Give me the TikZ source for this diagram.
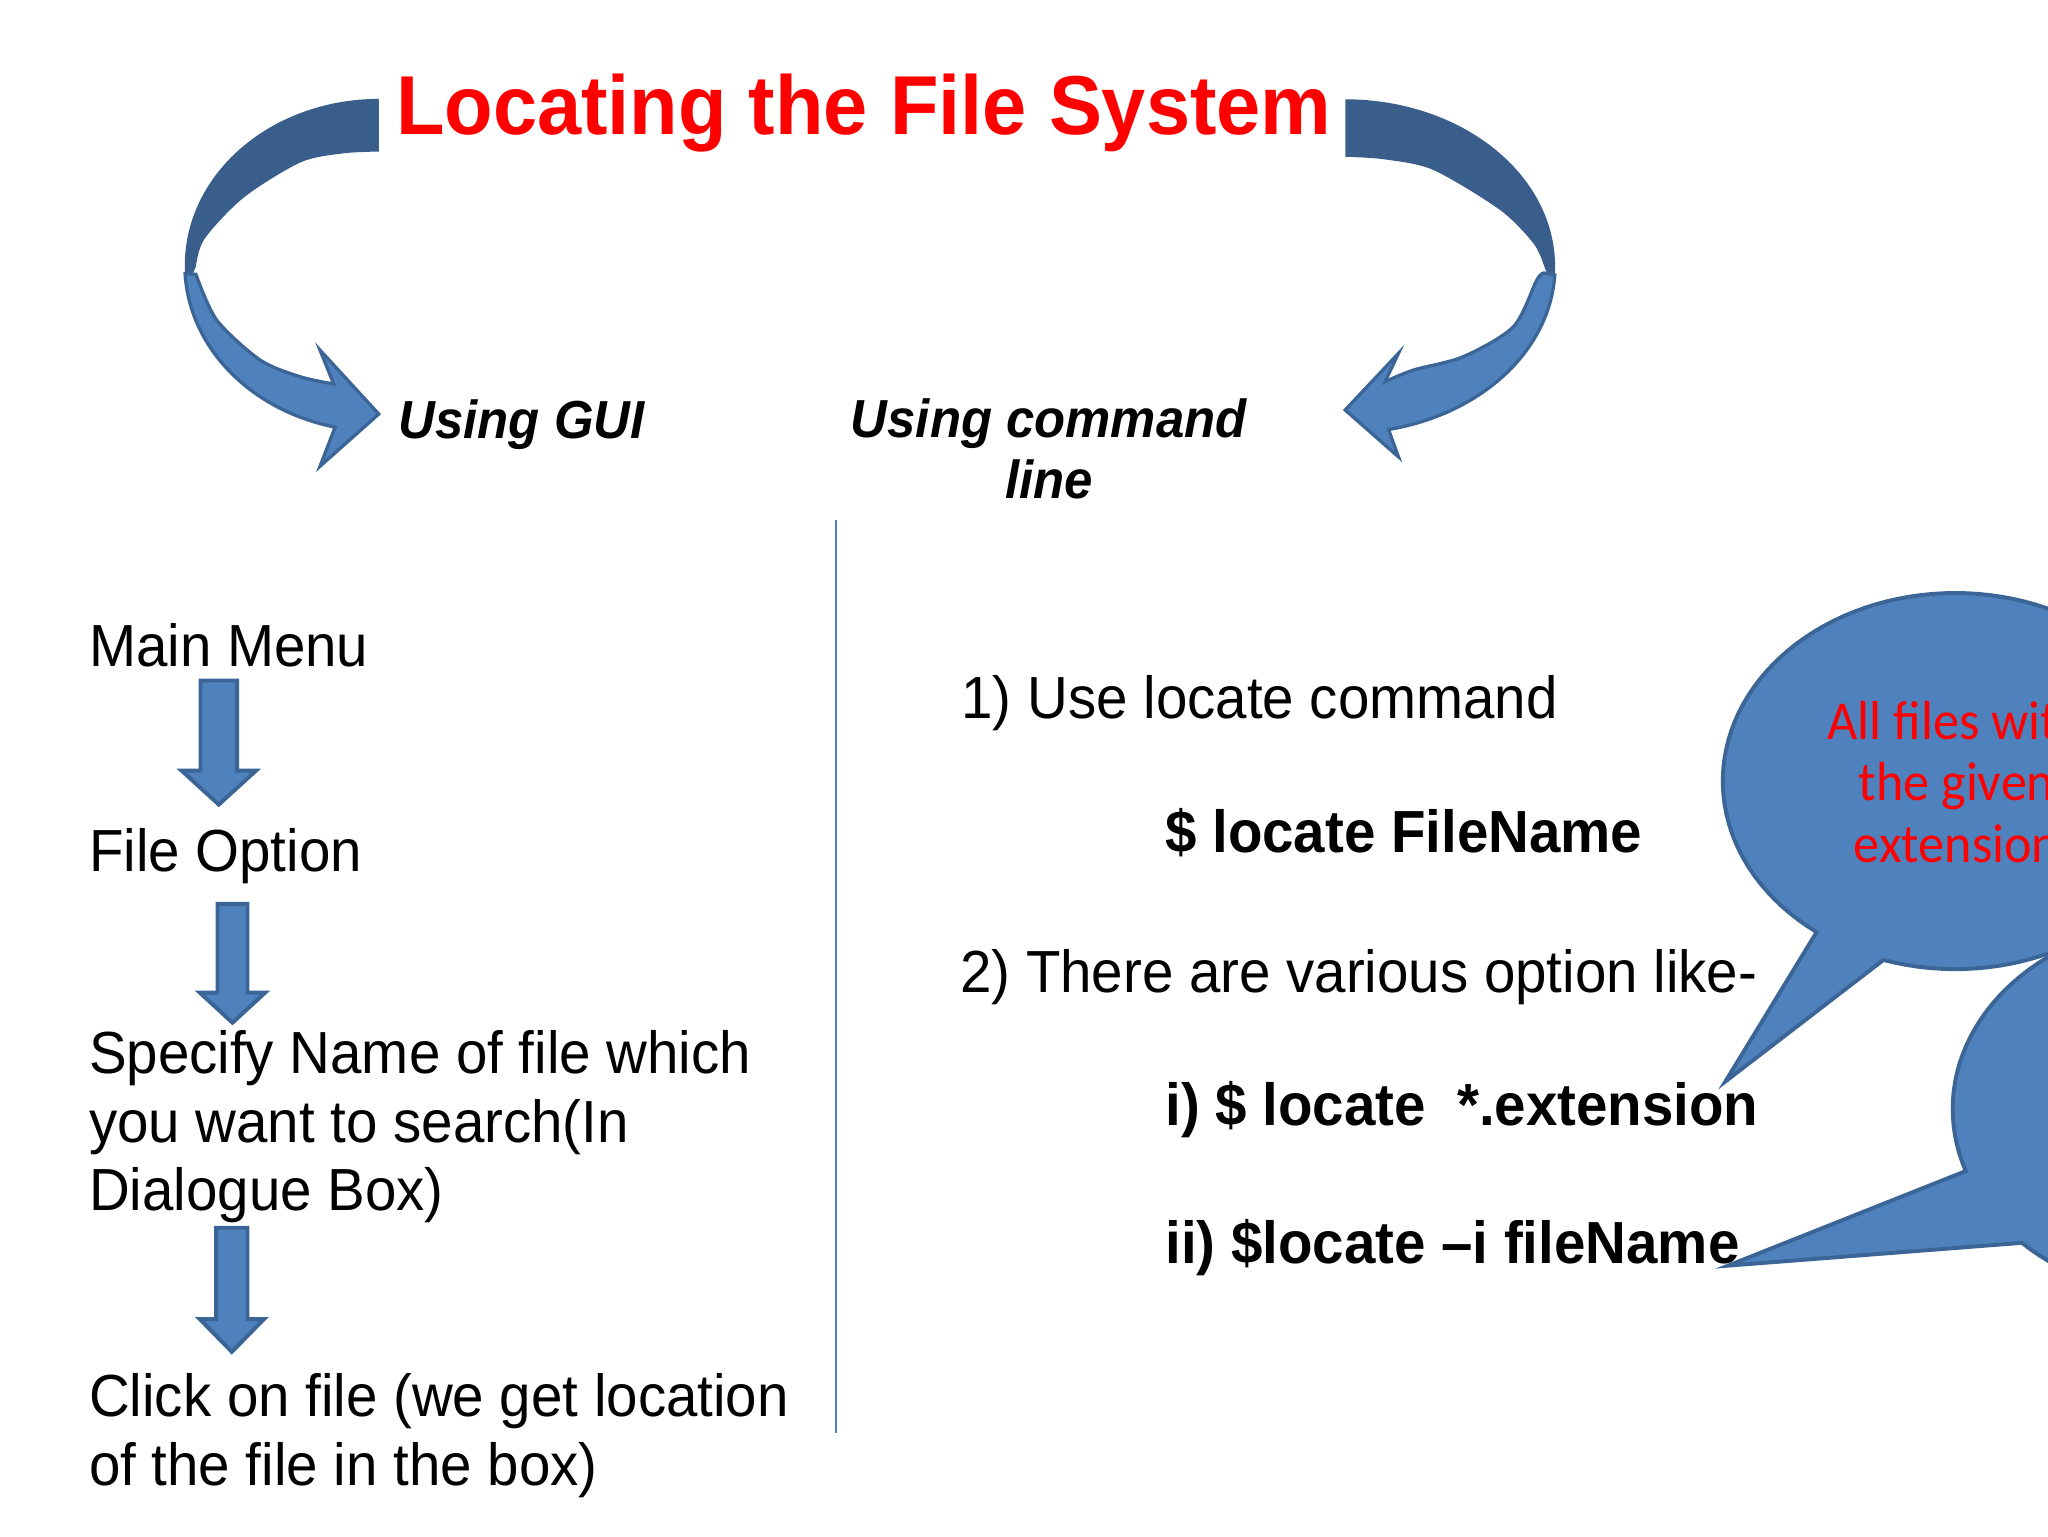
\documentclass[tikz,border=0pt]{standalone}
\usepackage{fontspec}
\setmainfont{Liberation Sans}[FakeStretch=0.95]
\newfontfamily\calib{Carlito}[FakeStretch=0.95]
\definecolor{boxblue}{HTML}{4F81BD}
\definecolor{edgeblue}{HTML}{3B6597}
\definecolor{backblue}{HTML}{3A5E8B}
\definecolor{titlered}{HTML}{FF0000}
\newcommand\dnarrow[6]{% cx, shaft half, top, head base, head half, tip
  \filldraw[blockarrow] (#1-#2,#3) -- (#1+#2,#3) -- (#1+#2,#4) -- (#1+#5,#4)
    -- (#1,#6) -- (#1-#5,#4) -- (#1-#2,#4) -- cycle;}
\begin{document}
\begin{tikzpicture}[x=1pt,y=-1pt,
  body/.style={inner sep=0pt, font=\fontsize{45.5}{52.5}\selectfont},
  bodybold/.style={inner sep=0pt, font=\bfseries\fontsize{45.5}{52.5}\selectfont},
  heading/.style={inner sep=0pt, font=\bfseries\itshape\fontsize{41}{47}\selectfont},
  blockarrow/.style={fill=boxblue, draw=edgeblue, line width=3pt, line join=miter},
  bubble/.style={fill=boxblue, draw=edgeblue, line width=3pt, line join=miter},
  ribbonback/.style={fill=backblue},
  ribbonfront/.style={fill=boxblue, draw=edgeblue, line width=2.5pt, line join=miter}]
\useasboundingbox (0,0) rectangle (1568,1176);
\clip (0,0) rectangle (1568,1176);
\fill[white] (0,0) rectangle (1568,1176);

% ---- left curved arrow ----
\fill[ribbonback] plot[domain=270:172, samples=50] ({290+148.5*cos(\x)},{203+127.3*sin(\x)})
  -- (150,204) -- plot[smooth] coordinates {(150,204) (156.5,183) (186.3,151.5) (229.7,124.5) (262,117.5) (290,116)} -- cycle;
\filldraw[ribbonfront] plot[domain=177:103, samples=50] ({290+148.5*cos(\x)},{203+127.3*sin(\x)})
  -- (245,357) -- (290,317) -- (245,268) -- (255.5,294)
  -- plot[smooth] coordinates {(255.5,294) (229.7,288.4) (199.1,275.6) (165.9,245) (150,210)} -- cycle;

% ---- right curved arrow ----
\fill[ribbonback] plot[domain=270:368, samples=50] ({1030+160.6*cos(\x)},{203.8+127.8*sin(\x)})
  -- (1182,203) -- plot[smooth] coordinates {(1182,203) (1174,186.3) (1148.5,160.8) (1097.5,130.2) (1060,122) (1030,120)} -- cycle;
\filldraw[ribbonfront] plot[domain=363:438.1, samples=50] ({1030+160.6*cos(\x)},{203.8+127.8*sin(\x)})
  -- (1070.7,349.8) -- (1029.9,313.9) -- (1070.7,270.5) -- (1060.5,292.2)
  -- plot[smooth] coordinates {(1060.5,292.2) (1082.2,283.3) (1120.5,273) (1158.7,250.1) (1176.6,214.4) (1182,209)} -- cycle;

% ---- title and headings ----
\node[inner sep=0pt, anchor=base west, text=titlered, font=\bfseries\fontsize{64}{70}\selectfont] (title) at (303,103) {Locating the File System};
\node[heading, anchor=base west] (gui) at (305,336) {Using GUI};
\node[heading, anchor=base, align=center] (cmd) at (803,382) {Using command\\line};

% ---- divider ----
\coordinate (divtop) at (640,398);
\coordinate (divbot) at (640,1097);
\draw[boxblue, line width=1.6pt] (divtop) -- (divbot);

% ---- left column ----
\node[body, anchor=base west] (mainmenu) at (68,510) {Main Menu};
\node[body, anchor=base west] (fileopt) at (68,667) {File Option};
\node[body, anchor=base west, align=left] (specify) at (68,927) {Specify Name of file which\\you want to search(In\\Dialogue Box)};
\node[body, anchor=base west, align=left] (click) at (68,1137) {Click on file (we get location\\of the file in the box)};

\dnarrow{167.5}{14}{521}{590}{28.5}{616}
\dnarrow{178}{11.5}{692}{760}{25}{783}
\dnarrow{177.5}{12}{940}{1010}{24.5}{1035}

% ---- right column ----
\node[body, anchor=base west] (use) at (736,550) {1) Use locate command};
\node[bodybold, anchor=base west] (lfn) at (892,653) {\$ locate FileName};
\node[body, anchor=base west] (various) at (735,760) {2) There are various option like-};
\node[bodybold, anchor=base west] (opt1) at (892,862) {i) \$ locate~~*.extension};
\node[bodybold, anchor=base west] (opt2) at (892,967) {ii) \$locate –i fileName};

% ---- speech bubbles ----
\filldraw[bubble] plot[domain=108:-233.4, samples=120] ({1497+178*cos(\x)},{598+144*sin(\x)}) -- (1321,828) -- cycle;
\filldraw[bubble] plot[domain=134.6:-199.3, samples=120] ({1673+178*cos(\x)},{849+144*sin(\x)}) -- (1323,969) -- cycle;
\node[inner sep=0pt, anchor=base, align=center, text=titlered, font=\calib\fontsize{42}{47}\selectfont] (bubtext) at (1498,660) {All files with\\the given\\extension};
\end{tikzpicture}
\end{document}
